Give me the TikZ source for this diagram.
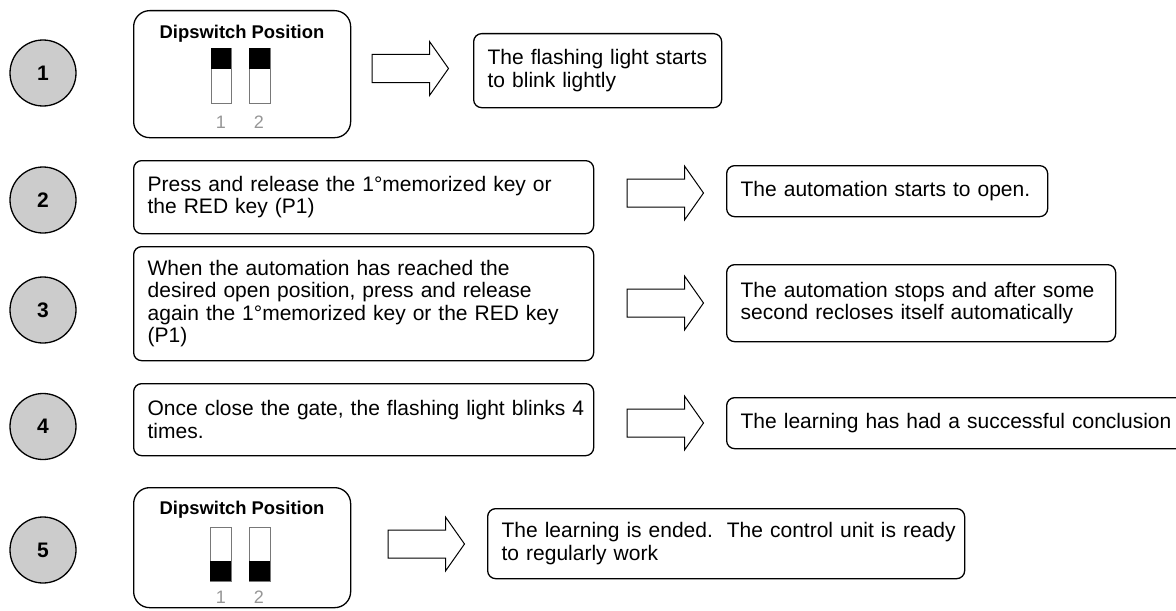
\documentclass[tikz,border=0pt]{standalone}
\usepackage{fontspec}
\setmainfont{Liberation Sans}
\newlength\px
\setlength\px{0.75pt}
\definecolor{cfill}{RGB}{204,204,204}
\definecolor{swgray}{RGB}{120,120,120}
\definecolor{lblgray}{RGB}{150,150,150}
\newcommand\dgBody{\fontsize{15.75pt}{16.9pt}\selectfont}
\newcommand\dgTitle{\fontsize{13.8pt}{15pt}\selectfont\bfseries}
\newcommand\dgNum{\fontsize{15.75pt}{16pt}\selectfont\bfseries}
\newcommand\dgLbl{\fontsize{13.5pt}{14pt}\selectfont}
\begin{document}
\begin{tikzpicture}[x=0.75pt,y=-0.75pt,
  tbox/.style={draw, line width=1.3\px, rounded corners=8\px, inner xsep=14\px, inner ysep=0pt, align=left, anchor=north west, font=\dgBody},
  dbox/.style={draw, line width=1.3\px, rounded corners=16\px, inner sep=0pt, anchor=north west, minimum width=217\px},
  numc/.style={circle, draw, line width=1.3\px, fill=cfill, minimum size=66\px, inner sep=0pt, font=\dgNum},
  dtitle/.style={font=\dgTitle, inner sep=0pt},
  swbox/.style={draw=swgray, line width=0.8\px, fill=white},
  swlbl/.style={text=lblgray, font=\dgLbl, inner sep=0pt},
  barrow/.style={draw, line width=1\px, fill=white, line join=miter},
  blockarrow/.pic={\draw[barrow] (0,-14) -- (57.5,-14) -- (57.5,-27) -- (76.5,0) -- (57.5,27) -- (57.5,14) -- (0,14) -- cycle;}]
\clip (0,0) rectangle (1176,610);
\fill[white] (0,0) rectangle (1176,610);

% step 1
\node[numc] (n1) at (43,73) {1};
\node[dbox, minimum height=127\px] (d1) at (133,10) {};
\node[dtitle] (t1) at (242,34) {Dipswitch Position};
\draw[swbox] (211,48) rectangle (231,103);
\fill (211,48) rectangle (231,69);
\draw[swbox] (249,48) rectangle (270,103);
\fill (249,48) rectangle (270,69);
\node[swlbl] (s11) at (221,122) {1};
\node[swlbl] (s12) at (259,122) {2};
\pic at (372,68.5) {blockarrow};
\node[tbox, text width=220\px, minimum height=74\px] (r1) at (473,33) {The flashing light starts\\to blink lightly};

% step 2
\node[numc] (n2) at (43,200) {2};
\node[tbox, text width=432\px, minimum height=73\px] (l2) at (133,160) {\mbox{Press and release the 1°memorized key or}\\the RED key (P1)};
\pic at (627,193) {blockarrow};
\node[tbox, text width=293\px, minimum height=51\px] (r2) at (726,165) {The automation starts to open.};

% step 3
\node[numc] (n3) at (43,310) {3};
\node[tbox, text width=432\px, minimum height=114\px] (l3) at (133,246) {\mbox{When the automation has reached the}\\\mbox{desired open position, press and release}\\\mbox{again the 1°memorized key or the RED key}\\(P1)};
\pic at (627,303) {blockarrow};
\node[tbox, text width=361\px, minimum height=77\px] (r3) at (726,264) {\mbox{The automation stops and after some}\\\mbox{second recloses itself automatically}};

% step 4
\node[numc] (n4) at (43,426.5) {4};
\node[tbox, text width=432\px, minimum height=72\px] (l4) at (133,383) {\mbox{Once close the gate, the flashing light blinks 4}\\times.};
\pic at (627,423) {blockarrow};
\node[tbox, text width=440\px, minimum height=51\px] (r4) at (726,397) {\mbox{The learning has had a successful conclusion}};

% step 5
\node[numc] (n5) at (43,550) {5};
\node[dbox, minimum height=120\px] (d5) at (133,487) {};
\node[dtitle] (t5) at (242,510) {Dipswitch Position};
\draw[swbox] (210,527) rectangle (231,581);
\fill (210,561) rectangle (231,581);
\draw[swbox] (249,527) rectangle (270,581);
\fill (249,561) rectangle (270,581);
\node[swlbl] (s51) at (221,597) {1};
\node[swlbl] (s52) at (259,597) {2};
\pic at (388,544) {blockarrow};
\node[tbox, text width=449\px, minimum height=70\px] (r5) at (487,508) {\mbox{The learning is ended.\ \ The control unit is ready}\\to regularly work};
\end{tikzpicture}
\end{document}
